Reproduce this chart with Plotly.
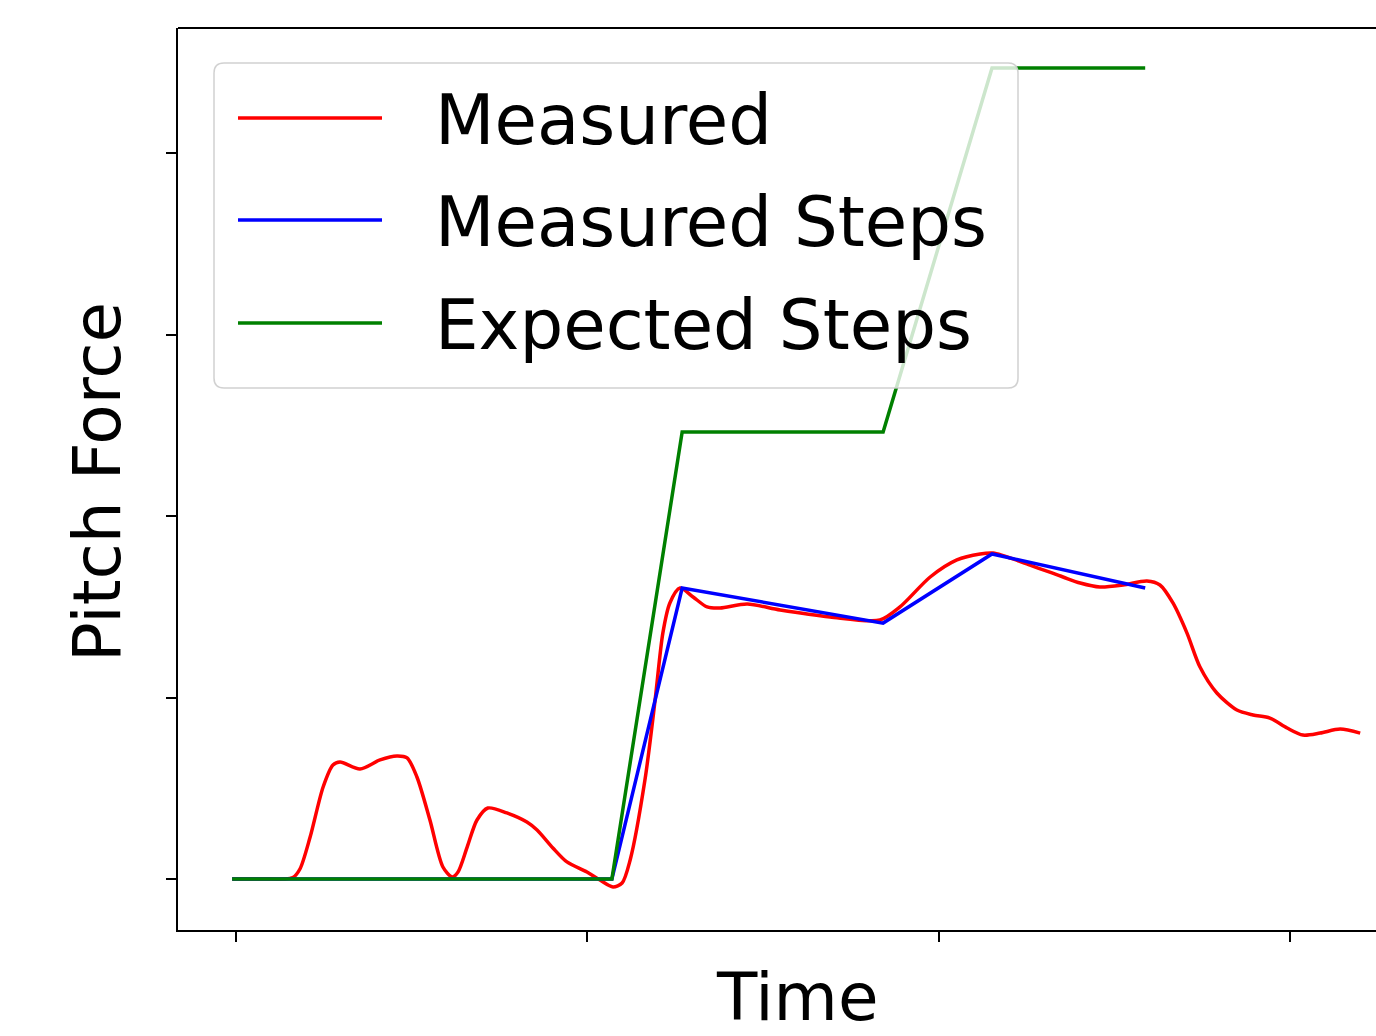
import plotly.graph_objects as go

# --- data -------------------------------------------------------------
measured_t = [-0.11, 0.8, 1.35, 1.62, 1.82, 2.11, 2.48, 2.76, 2.96, 3.53, 4.10, 4.58, 4.87, 5.15,
              5.52, 5.89, 6.15, 6.32, 6.58, 6.86, 7.17, 7.71, 8.28, 8.57, 9.02, 9.42,
              9.99, 10.36, 10.73, 10.99, 11.22, 11.64, 11.93, 12.15, 12.35, 12.64,
              13.01, 13.41, 13.78, 14.55, 15.49, 16.91, 18.33, 18.90, 19.76, 20.52,
              21.18, 21.55, 22.60, 23.54, 24.03, 24.59, 25.25, 25.93, 26.30, 26.67,
              27.07, 27.44, 27.92, 28.49, 28.95, 29.43, 29.92, 30.37, 30.86, 31.43, 32.00]
measured_f = [0.0, 0.0, 0.0, 0.08, 0.55, 2.31, 5.07, 6.28, 6.45, 6.06, 6.56, 6.78, 6.67, 5.62,
              3.25, 0.66, 0.11, 0.39, 1.76, 3.25, 3.91, 3.64, 3.14, 2.70, 1.71, 0.94,
              0.39, -0.06, -0.44, -0.22, 1.05, 5.45, 9.86, 13.55, 15.21, 16.03,
              15.54, 14.99, 14.93, 15.15, 14.82, 14.44, 14.27, 14.99, 16.64, 17.58,
              17.91, 17.96, 17.30, 16.64, 16.31, 16.09, 16.20, 16.42, 16.20, 15.21,
              13.55, 11.68, 10.25, 9.31, 9.04, 8.87, 8.32, 7.93, 8.04, 8.26, 8.04]

steps_t = [-0.11, 10.70, 12.70, 18.42, 21.52, 25.88]
measured_steps_f = [0.0, 0.0, 16.03, 14.10, 17.91, 16.03]
expected_steps_f = [0.0, 0.0, 24.63, 24.63, 44.68, 44.68]

x_ticks = [0, 10, 20, 30]
y_ticks = [0, 10, 20, 30, 40]

series_names = ["Measured", "Measured Steps", "Expected Steps"]
series_colors = ["#ff0000", "#0000ff", "#008000"]

# --- layout geometry (pixels) ----------------------------------------
W, H = 1376, 1036
L, T, R, B = 178, 28, 0, 106
plot_w = W - L - R
plot_h = H - T - B
FONT = "DejaVu Sans"
LW = 3.5


def px_x(px):
    return (px - L) / plot_w


def px_y(py):
    return (H - B - py) / plot_h


fig = go.Figure()
fig.add_trace(go.Scatter(x=measured_t, y=measured_f, mode="lines", name=series_names[0],
                         line=dict(color=series_colors[0], width=LW, shape="spline",
                                   smoothing=0.8)))
fig.add_trace(go.Scatter(x=steps_t, y=measured_steps_f, mode="lines", name=series_names[1],
                         line=dict(color=series_colors[1], width=LW)))
fig.add_trace(go.Scatter(x=steps_t, y=expected_steps_f, mode="lines", name=series_names[2],
                         line=dict(color=series_colors[2], width=LW)))

# --- legend box with rounded corners ---------------------------------
bx0, by0, bx1, by1, rad = 214, 63, 1018, 388, 10
path = (f"M {px_x(bx0 + rad)},{px_y(by0)} L {px_x(bx1 - rad)},{px_y(by0)} "
        f"Q {px_x(bx1)},{px_y(by0)} {px_x(bx1)},{px_y(by0 + rad)} "
        f"L {px_x(bx1)},{px_y(by1 - rad)} Q {px_x(bx1)},{px_y(by1)} {px_x(bx1 - rad)},{px_y(by1)} "
        f"L {px_x(bx0 + rad)},{px_y(by1)} Q {px_x(bx0)},{px_y(by1)} {px_x(bx0)},{px_y(by1 - rad)} "
        f"L {px_x(bx0)},{px_y(by0 + rad)} Q {px_x(bx0)},{px_y(by0)} {px_x(bx0 + rad)},{px_y(by0)} Z")
shapes = [
    dict(type="path", xref="paper", yref="paper", path=path, layer="above",
         fillcolor="rgba(255,255,255,0.8)", line=dict(color="rgba(204,204,204,0.9)", width=1.5)),
    # top frame line
    dict(type="line", xref="paper", yref="paper", x0=0, x1=1, y0=1, y1=1, layer="above",
         line=dict(color="black", width=2)),
]
annotations = []
row_y = [118, 220, 323]
for name, color, ry in zip(series_names, series_colors, row_y):
    shapes.append(dict(type="line", xref="paper", yref="paper", layer="above",
                       x0=px_x(238), x1=px_x(382), y0=px_y(ry), y1=px_y(ry),
                       line=dict(color=color, width=LW)))
    annotations.append(dict(text=name, xref="paper", yref="paper", x=px_x(433), y=px_y(ry + 2),
                            xanchor="left", yanchor="middle", showarrow=False,
                            font=dict(family=FONT, size=69, color="black")))

# axis titles
annotations.append(dict(text="Time", xref="paper", yref="paper", x=px_x(797), y=px_y(997),
                        xanchor="center", yanchor="middle", showarrow=False,
                        font=dict(family=FONT, size=66, color="black")))
annotations.append(dict(text="Pitch Force", xref="paper", yref="paper", x=px_x(97), y=px_y(482),
                        xanchor="center", yanchor="middle", textangle=-90, showarrow=False,
                        font=dict(family=FONT, size=66, color="black")))

fig.update_layout(
    width=W, height=H,
    margin=dict(l=L, r=R, t=T, b=B, pad=0),
    plot_bgcolor="white", paper_bgcolor="white",
    showlegend=False,
    shapes=shapes, annotations=annotations,
    xaxis=dict(range=[-1.651, 32.45], tickvals=x_ticks, showticklabels=False,
               ticks="outside", ticklen=10, tickwidth=2, tickcolor="black",
               showline=True, linecolor="black", linewidth=2, mirror=False,
               showgrid=False, zeroline=False),
    yaxis=dict(range=[-2.81, 46.89], tickvals=y_ticks, showticklabels=False,
               ticks="outside", ticklen=10, tickwidth=2, tickcolor="black",
               showline=True, linecolor="black", linewidth=2, mirror=False,
               showgrid=False, zeroline=False),
)

fig.write_html("out.html")
